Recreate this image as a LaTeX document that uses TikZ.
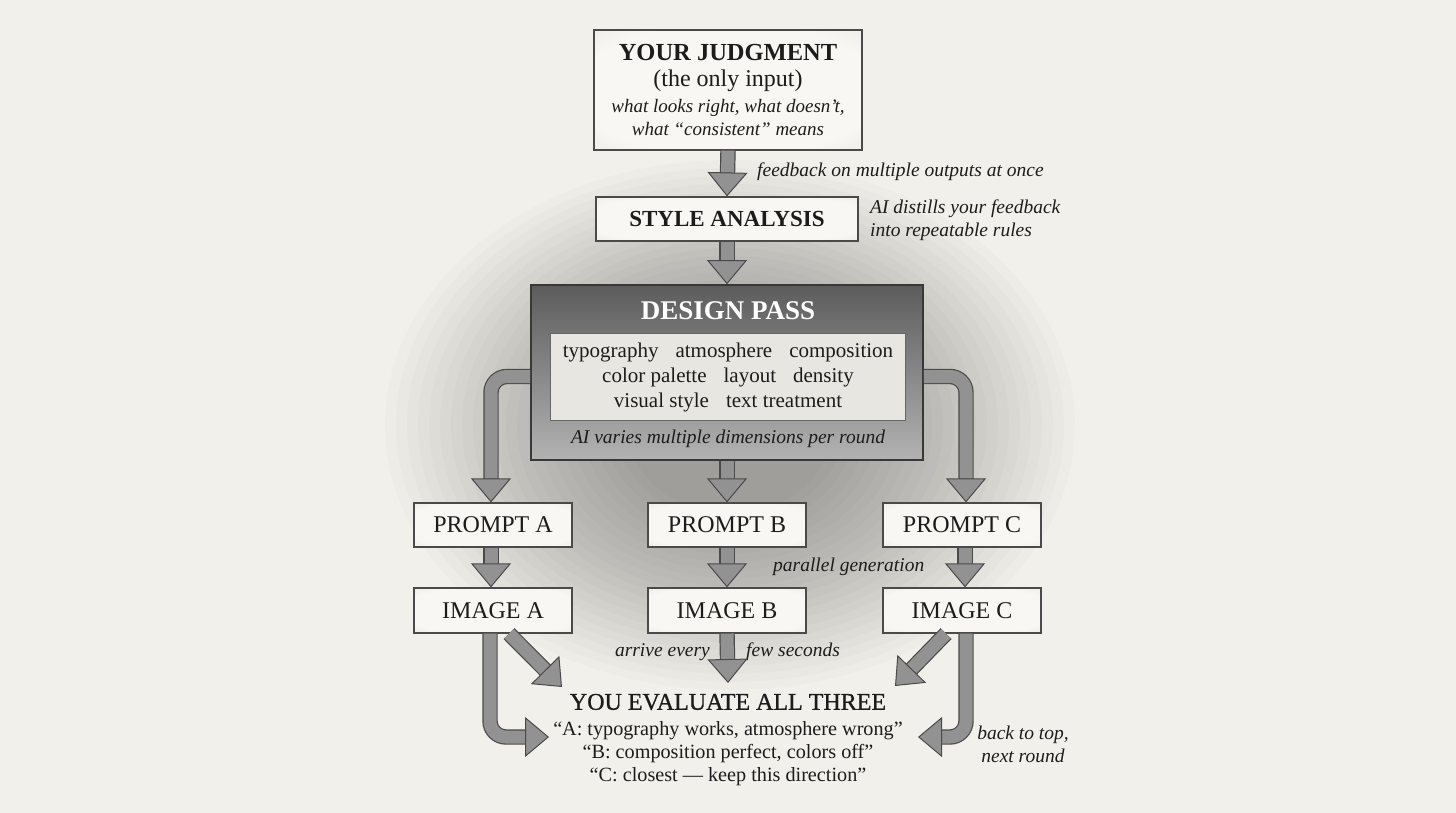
\documentclass[tikz,border=0pt]{standalone}
\usepackage{fontspec}
\setmainfont{Liberation Serif}
\newfontfamily\semib[FakeBold=0.9]{Liberation Serif}
\usetikzlibrary{arrows.meta,calc}
\definecolor{bgc}{HTML}{F2F0EA}
\definecolor{boxin}{HTML}{F8F7F3}
\definecolor{boxout}{HTML}{E0DDD6}
\definecolor{ink}{HTML}{1C1C1C}
\definecolor{edge}{HTML}{4A4A4A}
\definecolor{shaft}{HTML}{929292}
\definecolor{innerc}{HTML}{E8E6E1}
\pgfdeclareradialshading{boxsh}{\pgfpoint{0bp}{0bp}}{color(0bp)=(boxin); color(28bp)=(boxin); color(50bp)=(boxout)}
\newcommand{\fsz}[2]{\fontsize{#1}{#2}\selectfont}
\tikzset{
  frame/.style={append after command={
     \pgfextra{\draw[draw=black!32, line width=0.6pt]
       ([shift={(3.5pt,-3.5pt)}]\tikzlastnode.north west) rectangle
       ([shift={(-3.5pt,3.5pt)}]\tikzlastnode.south east);}}},
  box/.style={draw=edge, line width=1.2pt, shade, shading=boxsh, inner sep=0pt, text=ink, frame},
  barrow/.style={line width=13pt, draw=shaft,
    -{Triangle[width=40pt,length=24pt,line width=1pt 0 0,fill=shaft,color=edge]},
    preaction={draw=edge, line width=15.4pt, arrows=-, shorten >=22pt}},
  lbl/.style={font=\fsz{19.5}{23}\itshape, text=ink, inner sep=0pt},
  head/.style={font=\fsz{24}{28}, text=ink},
  smudge/.style={fill=black, opacity=0.016},
}
\begin{document}
\begin{tikzpicture}[x=1pt,y=-1pt]
\useasboundingbox (0,0) rectangle (1456,813);
\fill[bgc] (0,0) rectangle (1456,813);
\foreach \i [evaluate=\i as \rx using 345-11*\i, evaluate=\i as \ry using 265-8*\i] in {0,...,22}
  \fill[smudge] (730,425) ellipse [x radius=\rx pt, y radius=\ry pt];

% boxes
\node[box, minimum width=268pt, minimum height=120pt, align=center,
      font=\fsz{19}{26}] (judg) at (728,90)
  {{\fsz{24.5}{26}\bfseries YOUR JUDGMENT}\\
   {\fsz{24}{26}(the only input)}\\
   {\itshape what looks right, what doesn’t,}\\[-3pt]
   {\itshape what “consistent” means}};
\node[box, minimum width=262pt, minimum height=44pt, font=\fsz{23}{26}\bfseries] (style) at (727,219) {STYLE ANALYSIS};

\node[draw=black!78, line width=1.6pt, shading=axis, top color=black!64, bottom color=black!30,
      minimum width=392pt, minimum height=175pt] (dp) at (727,372.5) {};
\node[font=\fsz{27}{30}\bfseries, text=white] (dpt) at (728,311) {DESIGN PASS};
\node[draw=black!60, line width=1.2pt, fill=innerc, minimum width=355pt, minimum height=87pt,
      align=center, font=\fsz{21}{25}, text=ink, inner sep=0pt, frame] (dpi) at (728,377)
  {typography\hspace{17pt}atmosphere\hspace{17pt}composition\\
   color palette\hspace{17pt}layout\hspace{17pt}density\\
   visual style\hspace{17pt}text treatment};
\node[font=\fsz{19.5}{23}\itshape, text=ink] (dpc) at (728,439) {AI varies multiple dimensions per round};

\node[box, minimum width=158pt, minimum height=44pt, head] (pa) at (493,525) {PROMPT A};
\node[box, minimum width=158pt, minimum height=44pt, head] (pb) at (727,525) {PROMPT B};
\node[box, minimum width=158pt, minimum height=44pt, head] (pc) at (962,525) {PROMPT C};
\node[box, minimum width=158pt, minimum height=45pt, head] (ia) at (493,610.5) {IMAGE A};
\node[box, minimum width=158pt, minimum height=45pt, head] (ib) at (727,610.5) {IMAGE B};
\node[box, minimum width=158pt, minimum height=45pt, head] (ic) at (962,610.5) {IMAGE C};

\node[font=\semib\fsz{24}{28}, text=ink, inner sep=0pt] (ev) at (728,702) {YOU EVALUATE ALL THREE};
\node[font=\fsz{20.2}{23}, text=ink, align=center, inner sep=0pt] (evq) at (728,754)
  {“A: typography works, atmosphere wrong”\\
   “B: composition perfect, colors off”\\
   “C: closest — keep this direction”};

% labels
\node[lbl, anchor=west] (l1) at (757,172) {feedback on multiple outputs at once};
\node[lbl, anchor=west, align=left] (l2) at (870,220) {AI distills your feedback\\into repeatable rules};
\node[lbl, anchor=west] (l3) at (773,567) {parallel generation};
\node[lbl, anchor=east] (l4) at (710,652) {arrive every};
\node[lbl, anchor=west] (l5) at (746,652) {few seconds};
\node[lbl, align=center] (l6) at (1023,744) {back to top,\\next round};

% end points
\coordinate (evA) at (562,687);
\coordinate (evL) at (549,737);
\coordinate (evB) at (728,683);
\coordinate (evC) at (895,686);
\coordinate (evR) at (918,737);

% arrows
\draw[barrow] (judg.south) -- (style.north);
\draw[barrow] (style.south) -- (dp.north);
\draw[barrow, rounded corners=16pt] ([yshift=-4pt]dp.west) -| ([xshift=-2pt]pa.north);
\draw[barrow, rounded corners=16pt] ([yshift=-4pt]dp.east) -| ([xshift=4pt]pc.north);
\draw[barrow] (dp.south) -- (pb.north);
\draw[barrow] ([xshift=-2pt]pa.south) -- ([xshift=-2pt]ia.north);
\draw[barrow] (pb.south) -- (ib.north);
\draw[barrow] ([xshift=3pt]pc.south) -- ([xshift=3pt]ic.north);
\draw[barrow, rounded corners=16pt] ([xshift=-3pt]ia.south) |- (evL);
\draw[barrow] ([xshift=16pt]ia.south) -- (evA);
\draw[barrow] (ib.south) -- (evB);
\draw[barrow] ([xshift=-16pt]ic.south) -- (evC);
\draw[barrow, rounded corners=16pt] ([xshift=4pt]ic.south) |- (evR);
\end{tikzpicture}
\end{document}
